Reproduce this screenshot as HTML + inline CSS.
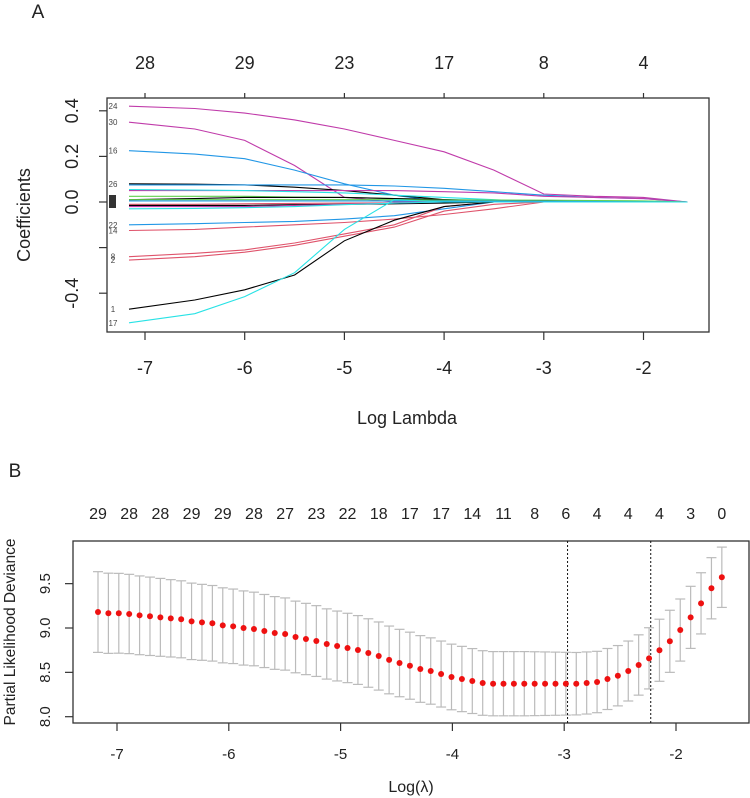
<!DOCTYPE html>
<html><head><meta charset="utf-8"><style>
html,body{margin:0;padding:0;background:#fff;}
svg{display:block;font-family:"Liberation Sans",Arial,sans-serif;}
</style></head><body>
<svg id="chart" width="750" height="798" viewBox="0 0 750 798">
<text x="38" y="18" font-size="19" text-anchor="middle" fill="#222">A</text>
<text x="15" y="477" font-size="19" text-anchor="middle" fill="#222">B</text>
<g id="pa"></g>
<g id="pb"></g>
</svg>
<script>
// ---- Panel A data ----
const knotsA = [-7.16,-6.5,-6,-5.5,-5,-4.5,-4,-3.5,-3,-2.5,-2,-1.56];
const xTicksA = [-7,-6,-5,-4,-3,-2];
const topLabelsA = ["28","29","23","17","8","4"];
const yTicksA = [-0.4,-0.2,0.0,0.2,0.4];
const yTickLabelsA = ["-0.4","","0.0","0.2","0.4"];
const coef24 = [0.42,0.41,0.39,0.36,0.32,0.27,0.22,0.14,0.035,0.025,0.02,0];
const coef30 = [0.35,0.32,0.27,0.16,0.02,0,0,0,0,0,0,0];
const coef16 = [0.225,0.21,0.19,0.14,0.08,0.03,0,0,0,0,0,0];
const coef26 = [0.08,0.078,0.075,0.065,0.05,0.03,0.01,0,0,0,0,0];
const coefB2 = [0.075,0.075,0.075,0.075,0.075,0.07,0.06,0.045,0.03,0.02,0.015,0];
const coefM2 = [0.05,0.05,0.05,0.05,0.05,0.05,0.045,0.04,0.025,0.02,0.015,0];
const coefC1 = [0.055,0.052,0.05,0.045,0.04,0.03,0.02,0.01,0,0,0,0];
const coefG1 = [0.025,0.025,0.025,0.022,0.02,0.015,0.01,0.008,0.006,0.005,0.004,0];
const coefK2 = [0.01,0.015,0.02,0.02,0.02,0.015,0.01,0.005,0.005,0,0,0];
const coefG2 = [0.01,0.01,0.01,0.01,0.01,0.01,0.008,0.008,0.008,0.006,0.005,0];
const coefB3 = [0.005,0.005,0.005,0.005,0.005,0.005,0.004,0.004,0.003,0.002,0.001,0];
const coefR1 = [-0.01,-0.01,-0.008,-0.006,-0.005,-0.004,-0.002,0,0,0,0,0];
const coefK3 = [-0.015,-0.015,-0.015,-0.012,-0.01,-0.008,-0.005,0,0,0,0,0];
const coefM3 = [-0.02,-0.02,-0.02,-0.015,-0.01,-0.005,0,0,0,0,0,0];
const coefC2 = [-0.03,-0.028,-0.025,-0.02,-0.012,-0.005,0,0,0,0,0,0];
const coef22 = [-0.1,-0.095,-0.09,-0.085,-0.075,-0.06,-0.03,0,0,0,0,0];
const coef14 = [-0.125,-0.12,-0.11,-0.1,-0.09,-0.075,-0.055,-0.03,0,0,0,0];
const coef8 = [-0.24,-0.225,-0.21,-0.18,-0.14,-0.1,-0.02,0,0,0,0,0];
const coef2 = [-0.255,-0.24,-0.22,-0.19,-0.15,-0.11,-0.04,-0.01,0,0,0,0];
const coef1 = [-0.47,-0.43,-0.385,-0.32,-0.17,-0.08,-0.02,0,0,0,0,0];
const coef17 = [-0.53,-0.49,-0.415,-0.31,-0.12,0.01,0,0,0,0,0,0];
const seriesA = [
 ["24",coef24,"#C03BAA",true],["30",coef30,"#C03BAA",true],["16",coef16,"#2297E6",true],
 ["26",coef26,"#000000",true],["",coefB2,"#2297E6",false],["",coefM2,"#C03BAA",false],
 ["",coefC1,"#28E2E5",false],["",coefG1,"#61D04F",false],["",coefK2,"#000000",false],
 ["",coefG2,"#61D04F",false],["",coefB3,"#2297E6",false],["",coefR1,"#DF536B",false],
 ["",coefK3,"#000000",false],["",coefM3,"#C03BAA",false],["",coefC2,"#28E2E5",false],
 ["22",coef22,"#2297E6",true],["14",coef14,"#DF536B",true],["8",coef8,"#DF536B",true],
 ["2",coef2,"#DF536B",true],["1",coef1,"#000000",true],["17",coef17,"#28E2E5",true]
];
// ---- Panel B data ----
const lamStart = -7.17, lamStep = 0.093;
const meanB = [9.18,9.166,9.166,9.158,9.143,9.132,9.12,9.109,9.098,9.075,9.064,9.053,9.03,9.019,9.0,8.989,8.966,8.944,8.932,8.899,8.876,8.853,8.82,8.797,8.775,8.752,8.718,
 8.684,8.64,8.605,8.575,8.538,8.515,8.481,8.448,8.425,8.402,8.38,8.372,8.372,8.372,8.372,8.372,8.372,8.372,8.372,8.372,8.38,8.391,8.425,8.462,8.515,8.583,8.658,8.749,8.85,8.977,9.12,9.278,9.448,9.572];
const seB = [0.455,0.452,0.450,0.447,0.444,0.442,0.439,0.436,0.434,0.431,0.428,0.426,0.423,0.420,0.418,0.415,0.412,0.410,0.407,0.404,0.402,0.399,0.396,0.394,0.391,0.388,0.386,
 0.384,0.382,0.380,0.378,0.376,0.374,0.372,0.370,0.368,0.366,0.364,0.362,0.362,0.362,0.362,0.360,0.358,0.356,0.354,0.352,0.350,0.346,0.344,
 0.340,0.338,0.340,0.345,0.350,0.350,0.350,0.350,0.345,0.345,0.340];
const topLabelsB = ["29","28","28","29","29","28","27","23","22","18","17","17","14","11","8","6","4","4","4","3","0"];
const xTicksB = [-7,-6,-5,-4,-3,-2];
const yTicksB = [8.0,8.5,9.0,9.5];
const yTickLabelsB = ["8.0","8.5","9.0","9.5"];
const vlinesB = [-2.97,-2.226];

const NS="http://www.w3.org/2000/svg";
function mk(parent,tag,attrs,txt){const e=document.createElementNS(NS,tag);for(const k in attrs)e.setAttribute(k,attrs[k]);if(txt!==undefined)e.textContent=txt;parent.appendChild(e);return e;}

// Panel A
const xA=v=>145+(v+7)*99.7, yA=c=>202-c*228;
const pa=document.getElementById('pa');
let r=mk(pa,'rect',{x:107,y:98,width:602,height:234,fill:'none',stroke:'#333','stroke-width':1.3});


seriesA.forEach((s,i)=>{
 const pts=knotsA.map((k,j)=>xA(k).toFixed(1)+','+yA(s[1][j]).toFixed(1)).join(' ');
 const p=mk(pa,'polyline',{points:pts,fill:'none',stroke:s[2],'stroke-width':1.1});
 
 
 if(s[3]){
  const t=mk(pa,'text',{x:113,y:yA(s[1][0])+3,'font-size':8,'text-anchor':'middle',fill:'#444'},s[0]);
  
  
 }
});
mk(pa,'rect',{x:109,y:195,width:7,height:13,fill:'#333'});
xTicksA.forEach((v,i)=>{
 mk(pa,'line',{x1:xA(v),x2:xA(v),y1:332,y2:340,stroke:'#333','stroke-width':1.2});
 let t=mk(pa,'text',{x:xA(v),y:374,'font-size':18,'text-anchor':'middle',fill:'#222'},String(v));
 
 
 mk(pa,'line',{x1:xA(v),x2:xA(v),y1:98,y2:93,stroke:'#333','stroke-width':1.2});
 t=mk(pa,'text',{x:xA(v),y:69,'font-size':18,'text-anchor':'middle',fill:'#222'},topLabelsA[i]);
 
 
});
yTicksA.forEach((v,i)=>{
 mk(pa,'line',{x1:99,x2:107,y1:yA(v),y2:yA(v),stroke:'#333','stroke-width':1.2});
 if(yTickLabelsA[i]){
  const t=mk(pa,'text',{x:0,y:0,'font-size':18,'text-anchor':'middle',fill:'#222',transform:`translate(78,${yA(v)}) rotate(-90)`},yTickLabelsA[i]);
  
  
 }
});
let tt=mk(pa,'text',{x:0,y:0,'font-size':18,'text-anchor':'middle',fill:'#222',transform:'translate(30,215) rotate(-90)'},'Coefficients');


tt=mk(pa,'text',{x:407,y:424,'font-size':18,'text-anchor':'middle',fill:'#222'},'Log Lambda');



// Panel B
const xB=v=>117+(v+7)*111.8, yB=d=>628-(d-9)*88.7;
const pb=document.getElementById('pb');
r=mk(pb,'rect',{x:73,y:541,width:676,height:182,fill:'none',stroke:'#333','stroke-width':1.3});


meanB.forEach((m,i)=>{
 const x=xB(lamStart+i*lamStep), up=yB(m+seB[i]), lo=yB(m-seB[i]);
 const g=mk(pb,'g',{stroke:'#BBBBBB','stroke-width':1.2});
 
 
 mk(g,'line',{x1:x,x2:x,y1:up,y2:lo});
 mk(g,'line',{x1:x-5,x2:x+5,y1:up,y2:up});
 mk(g,'line',{x1:x-5,x2:x+5,y1:lo,y2:lo});
});
vlinesB.forEach(v=>{
 const l=mk(pb,'line',{x1:xB(v),x2:xB(v),y1:541,y2:723,stroke:'#111','stroke-width':1,'stroke-dasharray':'2,2'});
 
 
});
meanB.forEach((m,i)=>{
 const c=mk(pb,'circle',{cx:xB(lamStart+i*lamStep),cy:yB(m),r:3,fill:'#EE1111'});
 
 
});
topLabelsB.forEach((s,i)=>{
 const t=mk(pb,'text',{x:xB(lamStart+i*3*lamStep),y:519,'font-size':16,'text-anchor':'middle',fill:'#222'},s);
 
 
});
xTicksB.forEach(v=>{
 mk(pb,'line',{x1:xB(v),x2:xB(v),y1:723,y2:731,stroke:'#333','stroke-width':1.2});
 const t=mk(pb,'text',{x:xB(v),y:759,'font-size':15,'text-anchor':'middle',fill:'#222'},String(v));
 
 
});
yTicksB.forEach((v,i)=>{
 mk(pb,'line',{x1:65,x2:73,y1:yB(v),y2:yB(v),stroke:'#333','stroke-width':1.2});
 const t=mk(pb,'text',{x:0,y:0,'font-size':15,'text-anchor':'middle',fill:'#222',transform:`translate(50,${yB(v)}) rotate(-90)`},yTickLabelsB[i]);
 
 
});
tt=mk(pb,'text',{x:0,y:0,'font-size':15.5,'text-anchor':'middle',fill:'#222',transform:'translate(15,632) rotate(-90)'},'Partial Likelihood Deviance');


tt=mk(pb,'text',{x:411,y:792,'font-size':16,'text-anchor':'middle',fill:'#222'},'Log(λ)');


</script>
</body></html>
